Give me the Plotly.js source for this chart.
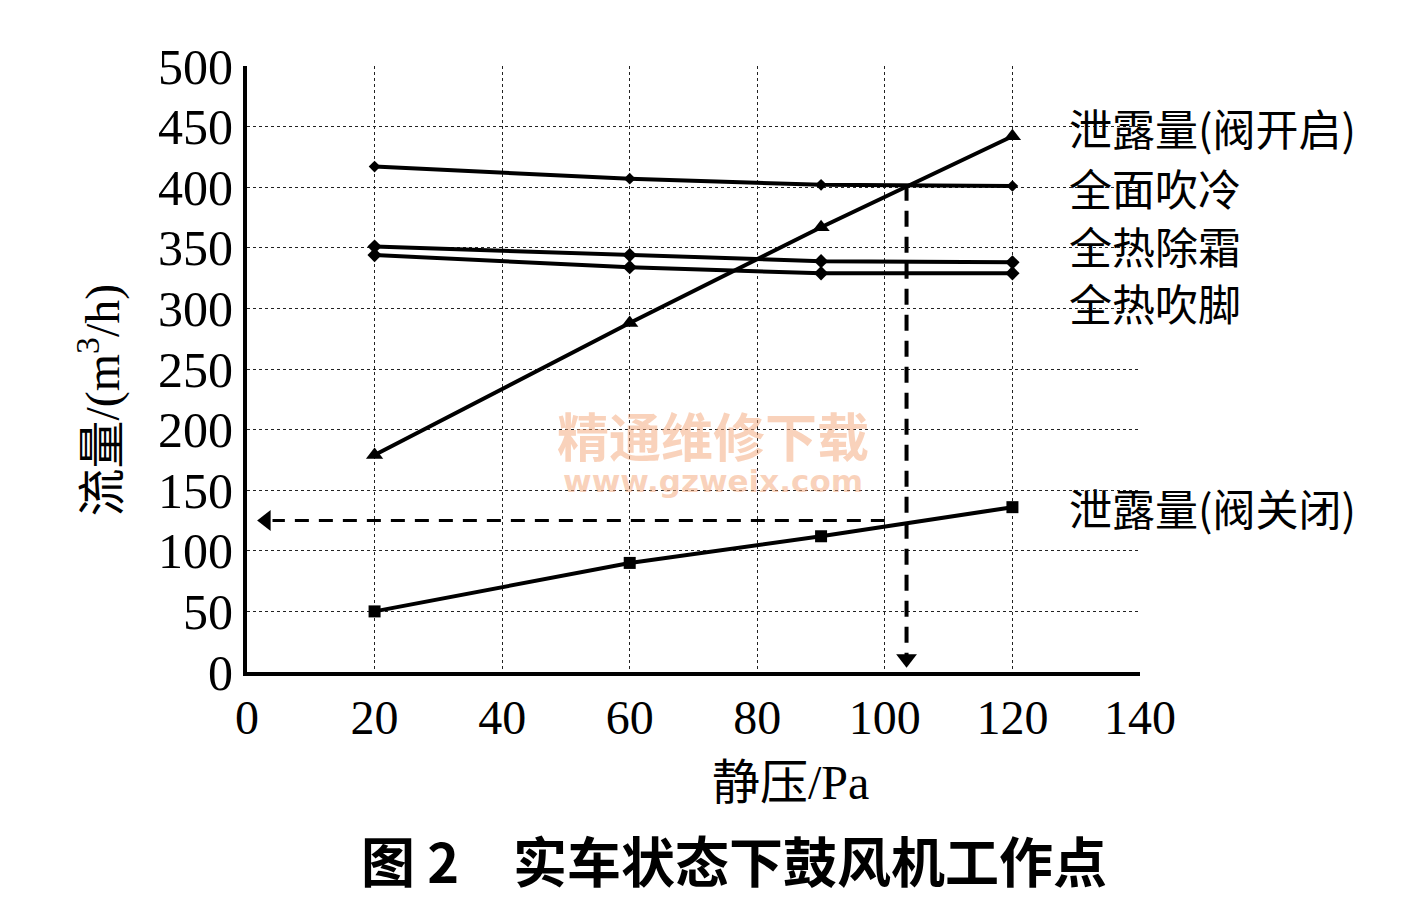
<!DOCTYPE html>
<html>
<head>
<meta charset="utf-8">
<script src="https://cdn.plot.ly/plotly-3.0.1.min.js"></script>
<style>html,body{margin:0;padding:0;background:#fff;}#chart{width:1426px;height:902px;}</style>
</head>
<body>
<div id="chart"></div>
<script>
// ---- data ----
const pressure = [20, 60, 90, 120];
const leakOpen = [179, 288, 367, 442];     // 泄露量(阀开启)
const faceCool = [417, 407, 402, 401];     // 全面吹冷
const heatDefrost = [351, 344, 339, 338];  // 全热除霜
const heatFoot = [344, 334, 329, 329];     // 全热吹脚
const leakClosed = [50, 90, 112, 136];     // 泄露量(阀关闭)
const seriesNames = ['泄露量(阀开启)', '全面吹冷', '全热除霜', '全热吹脚', '泄露量(阀关闭)'];
const labelY = [450, 400, 352, 305, 136];
// operating point guide lines (dashed arrows)
const guideHX = [100, 4];       const guideHY = [125, 125];
const guideVX = [103.4, 103.4]; const guideVY = [402, 12];
const arrowX = [3, 103.4];      const arrowY = [125, 11];
const xTicks = [0, 20, 40, 60, 80, 100, 120, 140];
const yTicks = [0, 50, 100, 150, 200, 250, 300, 350, 400, 450, 500];

const serif = 'Liberation Serif, "Noto Sans CJK SC", serif';
const cjk = '"Noto Sans CJK SC", "Liberation Serif", sans-serif';

function line(y, symbol, msize, name) {
  return {x: pressure, y: y, name: name, type: 'scatter', mode: 'lines+markers',
    line: {color: '#000', width: 4}, marker: {color: '#000', symbol: symbol, size: msize},
    showlegend: false, hoverinfo: 'x+y'};
}

const traces = [
  line(leakOpen, 'triangle-up', 15, seriesNames[0]),
  line(faceCool, 'diamond', 9, seriesNames[1]),
  line(heatDefrost, 'diamond', 11, seriesNames[2]),
  line(heatFoot, 'diamond', 11, seriesNames[3]),
  line(leakClosed, 'square', 12, seriesNames[4]),
  {x: guideHX, y: guideHY, type: 'scatter', mode: 'lines', showlegend: false,
    line: {color: '#000', width: 3, dash: '14px,10px'}},
  {x: guideVX, y: guideVY, type: 'scatter', mode: 'lines', showlegend: false,
    line: {color: '#000', width: 4, dash: '16px,10px'}},
  {x: arrowX, y: arrowY, type: 'scatter', mode: 'markers', showlegend: false,
    marker: {symbol: ['triangle-left', 'triangle-down'], size: 18, color: '#000', line: {width: 0}}}
];

const annotations = seriesNames.map((n, i) => ({
  x: 128.5, y: labelY[i], xref: 'x', yref: 'y', text: n, showarrow: false,
  xanchor: 'left', yanchor: 'middle', font: {family: cjk, size: 43, color: '#000'}
}));
annotations.push({
  x: 0.609, y: -0.183, xref: 'paper', yref: 'paper', text: '静压/Pa',
  showarrow: false, xanchor: 'center', yanchor: 'middle', font: {family: serif, size: 48, color: '#000'}
});
annotations.push({
  x: -0.165, y: 0.449, xref: 'paper', yref: 'paper', text: '流量/(m<sup>3</sup>/h)', textangle: -90,
  showarrow: false, xanchor: 'center', yanchor: 'middle', font: {family: serif, size: 48, color: '#000'}
});
annotations.push({
  x: 0.545, y: -0.31, xref: 'paper', yref: 'paper', text: '<b>图 2　实车状态下鼓风机工作点</b>',
  showarrow: false, xanchor: 'center', yanchor: 'middle', font: {family: cjk, size: 54, color: '#000'}
});
annotations.push({
  x: 0.522, y: 0.392, xref: 'paper', yref: 'paper', text: '<b>精通维修下载</b>',
  showarrow: false, xanchor: 'center', yanchor: 'middle', font: {family: cjk, size: 52, color: 'rgba(243,165,120,0.5)'}
});
annotations.push({
  x: 0.522, y: 0.315, xref: 'paper', yref: 'paper', text: '<b>www.gzweix.com</b>',
  showarrow: false, xanchor: 'center', yanchor: 'middle', font: {family: 'DejaVu Sans, sans-serif', size: 31, color: 'rgba(243,165,120,0.5)'}
});

const layout = {
  width: 1426, height: 902,
  margin: {l: 247, r: 286, t: 66, b: 230},
  paper_bgcolor: '#fff', plot_bgcolor: '#fff',
  showlegend: false,
  xaxis: {
    range: [0, 140], tickvals: xTicks, ticktext: xTicks.map(String),
    showgrid: true, gridcolor: '#222', gridwidth: 1, griddash: 'dot',
    showline: true, linecolor: '#000', linewidth: 4, zeroline: false,
    ticks: '', ticklabelstandoff: 0,
    tickfont: {family: serif, size: 48, color: '#000'}
  },
  yaxis: {
    range: [0, 500], tickvals: yTicks, ticktext: yTicks.map(String),
    showgrid: true, gridcolor: '#222', gridwidth: 1, griddash: 'dot',
    showline: true, linecolor: '#000', linewidth: 4, zeroline: false,
    ticks: '', ticklabelstandoff: 0,
    tickfont: {family: serif, size: 50, color: '#000'}
  },
  annotations: annotations
};

Plotly.newPlot('chart', traces, layout, {displayModeBar: false, staticPlot: true});
</script>
</body>
</html>
